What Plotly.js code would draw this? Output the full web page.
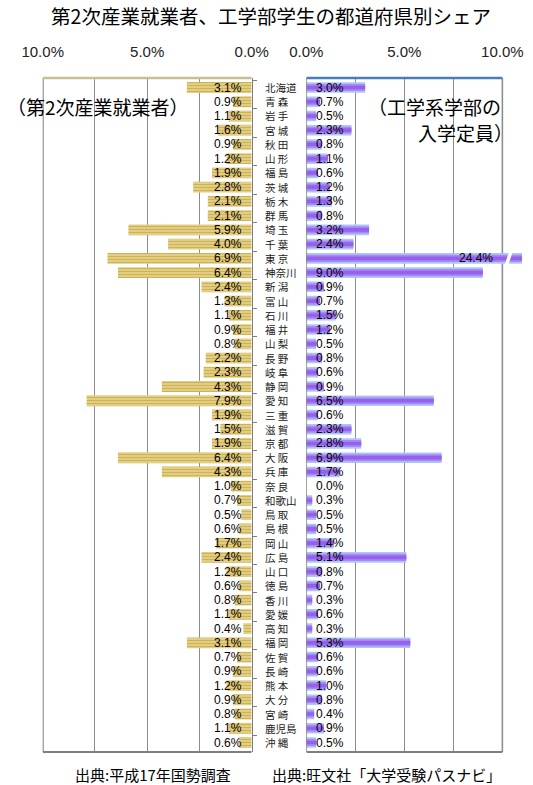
<!DOCTYPE html>
<html><head><meta charset="utf-8">
<script src="https://cdn.plot.ly/plotly-3.0.1.min.js"></script>
<style>html,body{margin:0;padding:0;background:#fff}#chart{width:533px;height:785px}</style>
</head><body><div id="chart"></div>
<script>
const prefectures = ["北海道","青森","岩手","宮城","秋田","山形","福島","茨城","栃木","群馬","埼玉","千葉","東京","神奈川","新潟","富山","石川","福井","山梨","長野","岐阜","静岡","愛知","三重","滋賀","京都","大阪","兵庫","奈良","和歌山","鳥取","島根","岡山","広島","山口","徳島","香川","愛媛","高知","福岡","佐賀","長崎","熊本","大分","宮崎","鹿児島","沖縄"];
const industryShare = [3.1,0.9,1.1,1.6,0.9,1.2,1.9,2.8,2.1,2.1,5.9,4.0,6.9,6.4,2.4,1.3,1.1,0.9,0.8,2.2,2.3,4.3,7.9,1.9,1.5,1.9,6.4,4.3,1.0,0.7,0.5,0.6,1.7,2.4,1.2,0.6,0.8,1.1,0.4,3.1,0.7,0.9,1.2,0.9,0.8,1.1,0.6];
const engineeringShare = [3.0,0.7,0.5,2.3,0.8,1.1,0.6,1.2,1.3,0.8,3.2,2.4,24.4,9.0,0.9,0.7,1.5,1.2,0.5,0.8,0.6,0.9,6.5,0.6,2.3,2.8,6.9,1.7,0.0,0.3,0.5,0.5,1.4,5.1,0.8,0.7,0.3,0.6,0.3,5.3,0.6,0.6,1.0,0.8,0.4,0.9,0.5];
const tickValues = [0,2.5,5,7.5,10];
const tickLabels = ["0.0%","","5.0%","","10.0%"];
const chartTitle = "第2次産業就業者、工学部学生の都道府県別シェア";
const leftLabel = "（第2次産業就業者）";
const rightLabel1 = "（工学系学部の";
const rightLabel2 = "入学定員）";
const leftSource = "出典:平成17年国勢調査";
const rightSource = "出典:旺文社「大学受験パスナビ」";

const W = 533, H = 785, TOP = 78, BOT = 752.3;
const yP = px => (BOT - px) / (BOT - TOP);
const AXMAX = 10, X2MAX = 11.0;
const numFont = "Liberation Sans, Arial, sans-serif";
const jpFont = "Noto Sans CJK JP, sans-serif";

const traces = [
  {type:"bar", orientation:"h", y:prefectures, x:industryShare, xaxis:"x", yaxis:"y", width:0.76,
   marker:{color:"#E2CC7C", line:{width:0}, pattern:{shape:"-", fgcolor:"#CFB252", bgcolor:"#E6D38F", size:3, solidity:0.45}}, hoverinfo:"skip"},
  {type:"bar", orientation:"h", y:prefectures, x:engineeringShare, xaxis:"x2", yaxis:"y", width:0.74,
   marker:{color:"#ADC6F8", line:{width:0}}, hoverinfo:"skip"},
  {type:"bar", orientation:"h", y:prefectures, x:engineeringShare, xaxis:"x2", yaxis:"y", width:0.5,
   marker:{color:"#A98AF4", line:{width:0}}, hoverinfo:"skip"},
  {type:"bar", orientation:"h", y:prefectures, x:engineeringShare, xaxis:"x2", yaxis:"y", width:0.26,
   marker:{color:"#9561EC", line:{width:0}}, hoverinfo:"skip"}
];

const annotations = [];
const fmt = v => v.toFixed(1) + "%";
prefectures.forEach((p, i) => {
  annotations.push({xref:"x", yref:"y", x:0, y:p, xanchor:"right", yanchor:"middle", xshift:-8, showarrow:false,
    text:fmt(industryShare[i]), font:{family:numFont, size:12, color:"#000"}});
  const v = engineeringShare[i];
  if (v > AXMAX) {
    annotations.push({xref:"x2", yref:"y", x:AXMAX, y:p, xanchor:"right", yanchor:"middle", xshift:-7, showarrow:false,
      text:fmt(v), font:{family:numFont, size:12, color:"#000"}});
  } else {
    annotations.push({xref:"x2", yref:"y", x:0, y:p, xanchor:"left", yanchor:"middle", xshift:8, showarrow:false,
      text:fmt(v), font:{family:numFont, size:12, color:"#000"}});
  }
  const disp = p.length === 2 ? p[0] + " " + p[1] : p;
  annotations.push({xref:"paper", yref:"y", x:263/W, y:p, xanchor:"left", yanchor:"middle", showarrow:false,
    text:disp, font:{family:jpFont, size:10.5, color:"#222"}});
});
annotations.push({xref:"paper", yref:"paper", x:5/W, y:yP(107), xanchor:"left", yanchor:"middle", showarrow:false,
  text:leftLabel, font:{family:jpFont, size:19, color:"#000"}});
annotations.push({xref:"paper", yref:"paper", x:366/W, y:yP(107), xanchor:"left", yanchor:"middle", showarrow:false,
  text:rightLabel1, font:{family:jpFont, size:19, color:"#000"}});
annotations.push({xref:"paper", yref:"paper", x:416/W, y:yP(133), xanchor:"left", yanchor:"middle", showarrow:false,
  text:rightLabel2, font:{family:jpFont, size:19, color:"#000"}});
annotations.push({xref:"paper", yref:"paper", x:153/W, y:yP(775), xanchor:"center", yanchor:"middle", showarrow:false,
  text:leftSource, font:{family:jpFont, size:15, color:"#000"}});
annotations.push({xref:"paper", yref:"paper", x:386/W, y:yP(775), xanchor:"center", yanchor:"middle", showarrow:false,
  text:rightSource, font:{family:jpFont, size:15, color:"#000"}});

const gray = "#7f7f7f";
const shapes = [
  {type:"line", xref:"x", yref:"paper", x0:AXMAX, x1:0, y0:0, y1:0, line:{color:gray, width:2}},
  {type:"line", xref:"x", yref:"paper", x0:AXMAX, x1:AXMAX, y0:0, y1:1, line:{color:gray, width:2}},
  {type:"line", xref:"x", yref:"paper", x0:AXMAX, x1:0, y0:1, y1:1, line:{color:"#C9BE93", width:2.5}},
  {type:"line", xref:"x2", yref:"paper", x0:0, x1:AXMAX, y0:0, y1:0, line:{color:gray, width:2}},
  {type:"line", xref:"x2", yref:"paper", x0:0, x1:0, y0:0, y1:1, line:{color:gray, width:1.5}},
  {type:"line", xref:"x2", yref:"paper", x0:AXMAX, x1:AXMAX, y0:0, y1:1, layer:"below", line:{color:gray, width:1.5}},
  {type:"line", xref:"x2", yref:"paper", x0:0, x1:AXMAX, y0:1, y1:1, line:{color:"#4A7EBB", width:2.5}}
];
engineeringShare.forEach((v, i) => {
  if (v > AXMAX) {
    shapes.push({type:"line", xref:"x2", yref:"y", x0:AXMAX+0.42, x1:AXMAX+0.22, y0:i-0.42, y1:i+0.42, line:{color:"#fff", width:3.5}});
  }
});

const axCommon = {side:"top", anchor:"y", tickmode:"array", tickvals:tickValues, ticktext:tickLabels,
  showgrid:true, gridcolor:"#8c8c8c", gridwidth:1, zeroline:false, showline:false, ticks:"",
  ticklabelstandoff:17, tickfont:{family:numFont, size:15, color:"#222"}, fixedrange:true};

const layout = {
  width:W, height:H, margin:{l:0, r:0, t:TOP, b:H-BOT, pad:0},
  paper_bgcolor:"#fff", plot_bgcolor:"rgba(0,0,0,0)", showlegend:false, barmode:"overlay",
  title:{text:chartTitle, xref:"container", yref:"container", x:271/W, y:1-17/H, xanchor:"center", yanchor:"middle",
    font:{family:jpFont, size:19.5, color:"#000"}},
  xaxis:Object.assign({}, axCommon, {domain:[42.7/W, 251.7/W], range:[AXMAX, 0]}),
  xaxis2:Object.assign({}, axCommon, {domain:[306.3/W, 522/W], range:[0, X2MAX]}),
  yaxis:{type:"category", autorange:"reversed", anchor:"x", side:"right", showline:true, linecolor:gray, linewidth:1.5,
    ticks:"outside", ticklen:4, tickcolor:gray, tickson:"boundaries", showticklabels:false, showgrid:false, zeroline:false, fixedrange:true},
  shapes:shapes, annotations:annotations
};

Plotly.newPlot("chart", traces, layout, {staticPlot:true, displayModeBar:false});
</script>
</body></html>
